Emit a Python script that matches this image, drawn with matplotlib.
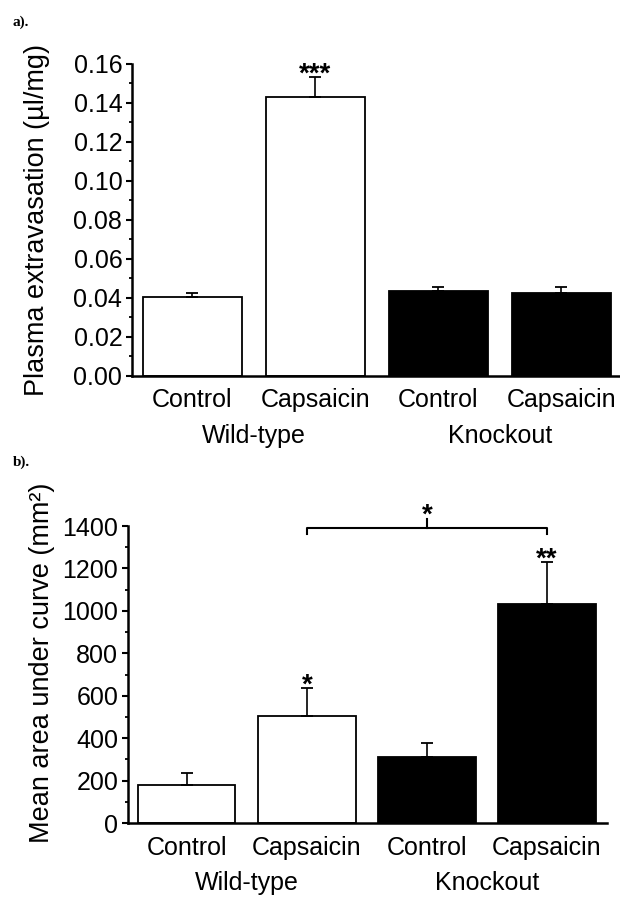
import matplotlib
matplotlib.use("Agg")
import matplotlib.pyplot as plt
from matplotlib.ticker import MultipleLocator, FormatStrFormatter

plt.rcParams["font.family"] = ["Liberation Sans", "DejaVu Sans"]

groups = ["Control", "Capsaicin", "Control", "Capsaicin"]
strains = ["Wild-type", "Knockout"]
colors = ["white", "white", "black", "black"]

# panel a: plasma extravasation
plasma = [0.0407, 0.1432, 0.0435, 0.0423]
plasma_err = [0.0016, 0.0103, 0.0022, 0.0032]

# panel b: mean area under curve
area = [179, 505, 312, 1033]
area_err = [58, 131, 66, 199]

fig = plt.figure(figsize=(6.2, 8.99), dpi=100)
ax1 = fig.add_axes([0.2129, 0.5818, 0.787, 0.3471])
ax2 = fig.add_axes([0.2065, 0.0845, 0.7726, 0.3304])


def style(ax):
    for s in ["top", "right"]:
        ax.spines[s].set_visible(False)
    ax.spines["left"].set_linewidth(1.8)
    ax.spines["bottom"].set_linewidth(1.8)
    ax.tick_params(axis="y", which="major", length=4.5, width=1.5, pad=2.5, labelsize=18)
    ax.tick_params(axis="y", which="minor", length=2.5, width=1.3)
    ax.tick_params(axis="x", length=0, pad=9, labelsize=18)


def draw(ax, vals, errs, width):
    x = list(range(len(vals)))
    ax.bar(x, vals, width=width, color=colors, edgecolor="black", linewidth=1.3)
    ax.errorbar(x, vals, yerr=[[0] * len(vals), errs], fmt="none", ecolor="black",
                elinewidth=1.2, capsize=4.5, capthick=1.3)
    ax.set_xticks(x)
    ax.set_xticklabels(groups)
    for pos, name in zip([0.5, 2.5], strains):
        ax.annotate(name, xy=(pos, 0), xycoords=("data", "axes fraction"),
                    xytext=(0, -43), textcoords="offset points",
                    ha="center", va="center", fontsize=18)


def stars(ax, x, y, s, dy=-3.5):
    ax.annotate(s, xy=(x, y), xytext=(0, dy), textcoords="offset points",
                ha="center", va="baseline", fontsize=20, fontweight="bold",
                annotation_clip=False)


# ---- a)
draw(ax1, plasma, plasma_err, 0.8)
style(ax1)
ax1.set_xlim(-0.492, 3.476)
ax1.set_ylim(0, 0.16)
ax1.yaxis.set_major_locator(MultipleLocator(0.02))
ax1.yaxis.set_minor_locator(MultipleLocator(0.01))
ax1.yaxis.set_major_formatter(FormatStrFormatter("%.2f"))
ax1.set_ylabel("Plasma extravasation (µl/mg)", fontsize=19.5, ha="center", va="center")
ax1.yaxis.set_label_coords(-0.195, 0.5)
stars(ax1, 1, plasma[1] + plasma_err[1], "***")

# ---- b)
draw(ax2, area, area_err, 0.81)
style(ax2)
ax2.set_xlim(-0.49, 3.5)
ax2.set_ylim(0, 1400)
ax2.yaxis.set_major_locator(MultipleLocator(200))
ax2.yaxis.set_minor_locator(MultipleLocator(100))
ax2.set_ylabel("Mean area under curve (mm²)", fontsize=19.5, ha="center", va="center")
ax2.yaxis.set_label_coords(-0.18, 0.54)
stars(ax2, 1, area[1] + area_err[1], "*")
stars(ax2, 3, area[3] + area_err[3], "**")

# comparison bracket between WT and KO capsaicin
ax2.plot([1, 1, 3, 3], [1362, 1390, 1390, 1362], color="black", lw=1.5, clip_on=False)
ax2.plot([2, 2], [1390, 1433], color="black", lw=1.5, clip_on=False)
stars(ax2, 2, 1433, "*", dy=-2.5)

fig.text(0.02, 0.975, "a).", family="Liberation Serif", fontweight="bold", fontsize=11, va="center")
fig.text(0.02, 0.486, "b).", family="Liberation Serif", fontweight="bold", fontsize=11, va="center")

fig.savefig("out.png", dpi=100)
